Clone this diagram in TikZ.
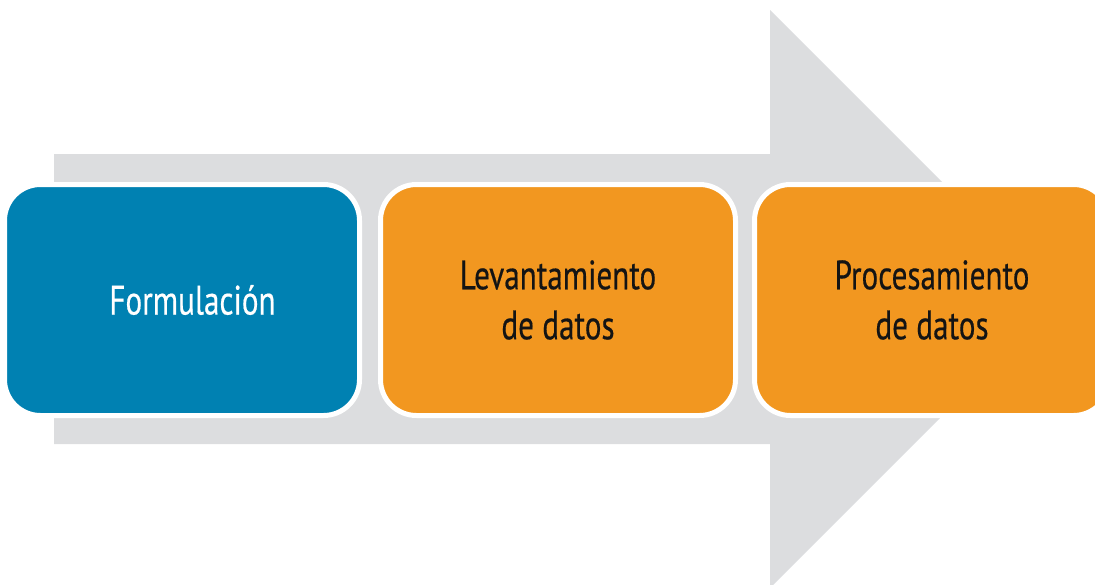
\documentclass[tikz,border=0pt]{standalone}
\usepackage{fontspec}
\setmainfont{PT Sans}[FakeStretch=0.76,FakeBold=0.4]
\definecolor{arrowgray}{HTML}{DCDDDF}
\definecolor{stepblue}{HTML}{0081B2}
\definecolor{steporange}{HTML}{F29720}
\definecolor{txtdark}{HTML}{141414}
\tikzset{
  stepbox/.style={draw=white, line width=5pt, rounded corners=36pt,
    minimum width=355pt, minimum height=231pt, inner sep=0pt,
    align=center, font=\fontsize{41}{50}\selectfont},
  bluebox/.style={stepbox, fill=stepblue, text=white},
  orangebox/.style={stepbox, fill=steporange, text=txtdark}
}
\begin{document}
\begin{tikzpicture}[x=1pt,y=-1pt]
\useasboundingbox (0,0) rectangle (1095,584);
\clip (0,0) rectangle (1095,584);
\fill[arrowgray] (54,154) -- (770,154) -- (770,10) -- (1059,299) -- (770,588) -- (770,444) -- (54,444) -- cycle;
\node[bluebox] (form) at (182,300) {\hspace*{21pt}Formulación};
\node[orangebox] (lev) at (558,300) {Levantamiento\\de datos};
\node[orangebox] (proc) at (932,300) {Procesamiento\\de datos};
\end{tikzpicture}
\end{document}
